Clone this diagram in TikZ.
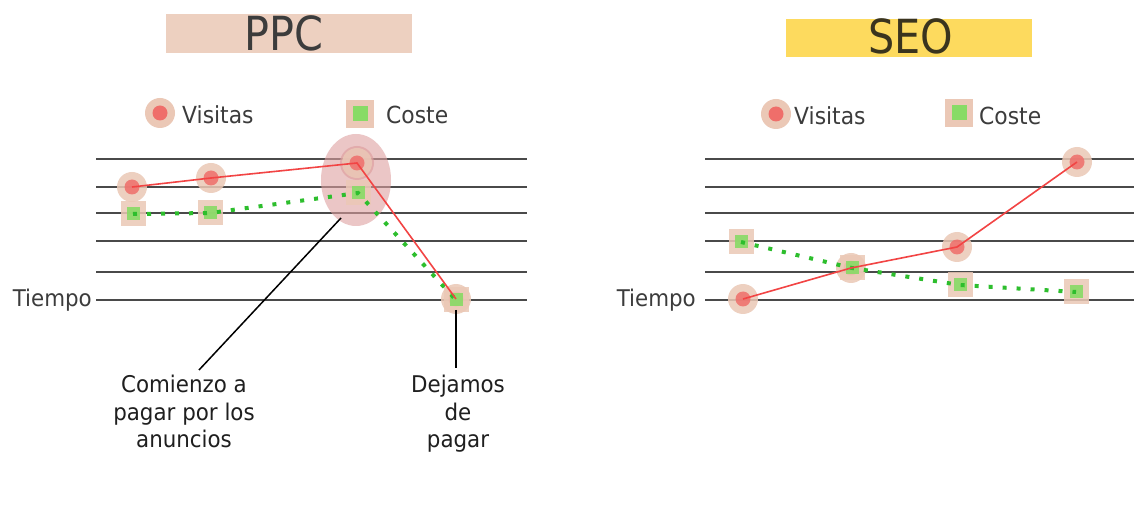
\documentclass[tikz,border=0pt]{standalone}
\usepackage{fontspec}
\setmainfont[FakeStretch=0.93]{DejaVu Sans}
\newfontfamily\titlefont[FakeStretch=0.88]{DejaVu Sans}
\usetikzlibrary{shapes.geometric}
\definecolor{halo}{HTML}{EBC8B6}
\definecolor{ppcbox}{HTML}{EDD0C0}
\definecolor{seobox}{HTML}{FDDA5E}
\definecolor{reddot}{HTML}{EF6E6A}
\definecolor{redline}{HTML}{F24444}
\definecolor{greensq}{HTML}{88DB66}
\definecolor{greenline}{HTML}{2DBE2D}
\definecolor{gridc}{HTML}{4A4A4A}
\definecolor{txt}{HTML}{3C3C3C}
\definecolor{hlpink}{HTML}{DFA0A0}
\begin{document}
\begin{tikzpicture}[x=1pt,y=-1pt,
  gridline/.style={draw=gridc,line width=2.2pt},
  vhalo/.style={circle,fill=halo,minimum size=30pt,inner sep=0pt,opacity=0.85},
  vdot/.style={circle,fill=reddot,minimum size=15pt,inner sep=0pt,opacity=0.85},
  chalo/.style={rectangle,fill=halo,minimum size=25pt,inner sep=0pt,opacity=0.85},
  cdot/.style={rectangle,fill=greensq,minimum size=13pt,inner sep=0pt,opacity=0.9},
  lhalo/.style={rectangle,fill=halo,minimum size=28pt,inner sep=0pt},
  ldot/.style={rectangle,fill=greensq,minimum size=15pt,inner sep=0pt},
  redser/.style={draw=redline,line width=1.6pt},
  greenser/.style={draw=greenline,line width=4pt,dash pattern=on 4pt off 10pt},
  legtxt/.style={font=\fontsize{23.5}{28}\selectfont,text=txt,inner sep=0pt},
  timetxt/.style={font=\fontsize{23}{26}\selectfont,text=txt,inner sep=0pt},
  annot/.style={font=\fontsize{23}{27.5}\selectfont,text=black!88,align=center,inner sep=0pt},
  titletxt/.style={font=\titlefont\fontsize{47}{50}\selectfont,inner sep=0pt},
  callout/.style={draw=black,line width=1.5pt}]
\useasboundingbox (0,0) rectangle (1134,518);
\fill[white] (0,0) rectangle (1134,518);

% ---------- titles ----------
\fill[ppcbox] (166,14) rectangle (412,53);
\node[titletxt,text=txt,anchor=base] (ppc) at (284,51) {PPC};
\fill[seobox] (786,19) rectangle (1032,57);
\node[titletxt,text={rgb,255:red,58;green,52;blue,30},anchor=base] (seo) at (911,54) {SEO};

% ---------- legends ----------
\node[vhalo,opacity=1] (lvh1) at (160,113) {};
\node[vdot,opacity=1] (lv1) at (160,113) {};
\node[legtxt,anchor=base west] (lvt1) at (182,124) {Visitas};
\node[lhalo] (lch1) at (360,114) {};
\node[ldot] (lc1) at (360,114) {};
\node[legtxt,anchor=base west] (lct1) at (386,124) {Coste};

\node[vhalo,opacity=1] (lvh2) at (776,114) {};
\node[vdot,opacity=1] (lv2) at (776,114) {};
\node[legtxt,anchor=base west] (lvt2) at (794,125) {Visitas};
\node[lhalo] (lch2) at (959,113) {};
\node[ldot] (lc2) at (959,113) {};
\node[legtxt,anchor=base west] (lct2) at (979,125) {Coste};

% ---------- grid lines ----------
\foreach \yy in {159,187,213,241,272,300} {
  \draw[gridline] (96,\yy) -- (527,\yy);
  \draw[gridline] (705,\yy) -- (1134,\yy);
}
\node[timetxt,anchor=base east] (t1) at (92,307) {Tiempo};
\node[timetxt,anchor=base east] (t2) at (696,306) {Tiempo};

% ---------- PPC highlight ----------
\node[ellipse,fill=hlpink,opacity=0.6,minimum width=70pt,minimum height=92pt,inner sep=0pt] (hl) at (356,180) {};
\node[circle,fill=hlpink,opacity=0.7,minimum size=34pt,inner sep=0pt] (hlin) at (357,163) {};

% ---------- PPC points ----------
\foreach \n/\px/\py in {1/132/187,2/211/178,3/357/163,4/456/299} {
  \node[vhalo] (pvh\n) at (\px,\py) {};
  \node[vdot] (pv\n) at (\px,\py) {};
}
\foreach \n/\px/\py in {1/133/214,2/210/213,3/358/193,4/456/300} {
  \node[chalo] (pch\n) at (\px,\py) {};
  \node[cdot] (pc\n) at (\px,\py) {};
}
\draw[greenser] (pc1.center) -- (pc2.center) -- (pc3.center) -- (pc4.center);
\draw[redser] (pv1.center) -- (pv2.center) -- (pv3.center) -- (pv4.center);

% ---------- SEO points ----------
\foreach \n/\px/\py in {1/743/299,2/851/268,3/957/247,4/1077/162} {
  \node[vhalo] (svh\n) at (\px,\py) {};
  \node[vdot] (sv\n) at (\px,\py) {};
}
\foreach \n/\px/\py in {1/741/242,2/852/268,3/960/285,4/1076/292} {
  \node[chalo] (sch\n) at (\px,\py) {};
  \node[cdot] (sc\n) at (\px,\py) {};
}
\draw[greenser] (sc1.center) -- (sc2.center) -- (sc3.center) -- (sc4.center);
\draw[redser] (sv1.center) -- (sv2.center) -- (sv3.center) -- (sv4.center);

% ---------- annotations ----------
\coordinate (a1) at (341,218);
\coordinate (a2) at (199,370);
\draw[callout] (a1) -- (a2);
\node[annot,anchor=north] (comienzo) at (184,375) {Comienzo a\\pagar por los\\anuncios};

\coordinate (b1) at (456,310);
\coordinate (b2) at (456,368);
\draw[callout] (b1) -- (b2);
\node[annot,anchor=north] (dejamos) at (458,375) {Dejamos\\de\\pagar};
\end{tikzpicture}
\end{document}
